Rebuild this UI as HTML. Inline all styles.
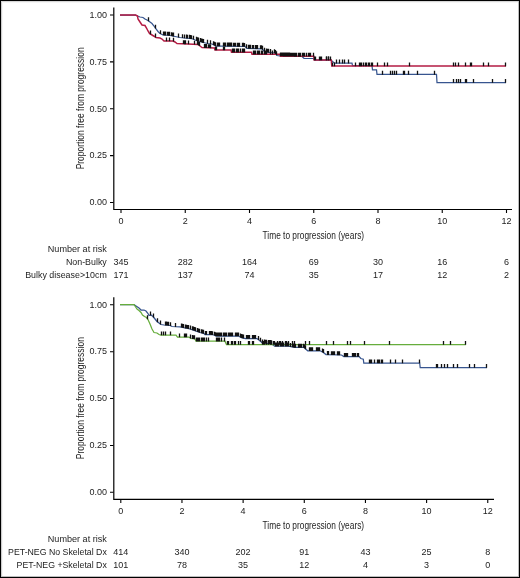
<!DOCTYPE html>
<html><head><meta charset="utf-8"><style>
html,body{margin:0;padding:0;background:#fff;}
svg{display:block;will-change:transform;}
</style></head><body>
<svg width="520" height="578" viewBox="0 0 520 578" font-family="'Liberation Sans', sans-serif">
<rect x="0" y="0" width="520" height="578" fill="#fff"/>
<rect x="0.5" y="0.5" width="519" height="577" fill="none" stroke="#000" stroke-width="1"/>
<rect x="1" y="1" width="1" height="576" fill="#cdcdcd"/>
<rect x="1" y="1" width="518" height="1" fill="#d6d6d6"/>
<rect x="518" y="1" width="1" height="576" fill="#bdbdbd"/>
<rect x="1" y="576" width="518" height="1" fill="#bdbdbd"/>
<rect x="2" y="2" width="1" height="574" fill="#f6f6f6"/>
<rect x="2" y="2" width="516" height="1" fill="#f6f6f6"/>
<path d="M113.8 7.5 V210.1 M113.2 209.5 H512" stroke="#000" stroke-width="1.2" fill="none"/>
<path d="M110 202.50 H113.5 M110 155.62 H113.5 M110 108.75 H113.5 M110 61.88 H113.5 M110 15.00 H113.5 M121.00 209.5 V213.1 M185.25 209.5 V213.1 M249.50 209.5 V213.1 M313.75 209.5 V213.1 M378.00 209.5 V213.1 M442.25 209.5 V213.1 M506.50 209.5 V213.1" stroke="#000" stroke-width="1.1" fill="none"/>
<text x="107.1" y="205.30" font-size="9" text-anchor="end" fill="#1c1c1c">0.00</text>
<text x="107.1" y="158.43" font-size="9" text-anchor="end" fill="#1c1c1c">0.25</text>
<text x="107.1" y="111.55" font-size="9" text-anchor="end" fill="#1c1c1c">0.50</text>
<text x="107.1" y="64.67" font-size="9" text-anchor="end" fill="#1c1c1c">0.75</text>
<text x="107.1" y="17.80" font-size="9" text-anchor="end" fill="#1c1c1c">1.00</text>
<text x="121.00" y="224.00" font-size="9" text-anchor="middle" fill="#1c1c1c">0</text>
<text x="185.25" y="224.00" font-size="9" text-anchor="middle" fill="#1c1c1c">2</text>
<text x="249.50" y="224.00" font-size="9" text-anchor="middle" fill="#1c1c1c">4</text>
<text x="313.75" y="224.00" font-size="9" text-anchor="middle" fill="#1c1c1c">6</text>
<text x="378.00" y="224.00" font-size="9" text-anchor="middle" fill="#1c1c1c">8</text>
<text x="442.25" y="224.00" font-size="9" text-anchor="middle" fill="#1c1c1c">10</text>
<text x="506.50" y="224.00" font-size="9" text-anchor="middle" fill="#1c1c1c">12</text>
<text x="262.6" y="239.00" font-size="10" text-anchor="start" fill="#1c1c1c" textLength="101.5" lengthAdjust="spacingAndGlyphs">Time to progression (years)</text>
<text x="0" y="0" font-size="10" text-anchor="middle" fill="#1c1c1c" textLength="122" lengthAdjust="spacingAndGlyphs" transform="translate(83.9 108.35) rotate(-90)">Proportion free from progression</text>
<text x="106.8" y="252.00" font-size="9" text-anchor="end" fill="#1c1c1c" textLength="59" lengthAdjust="spacingAndGlyphs">Number at risk</text>
<text x="106.8" y="265.00" font-size="9" text-anchor="end" fill="#1c1c1c" textLength="40.9" lengthAdjust="spacingAndGlyphs">Non-Bulky</text>
<text x="121.00" y="265.00" font-size="9" text-anchor="middle" fill="#1c1c1c">345</text>
<text x="185.25" y="265.00" font-size="9" text-anchor="middle" fill="#1c1c1c">282</text>
<text x="249.50" y="265.00" font-size="9" text-anchor="middle" fill="#1c1c1c">164</text>
<text x="313.75" y="265.00" font-size="9" text-anchor="middle" fill="#1c1c1c">69</text>
<text x="378.00" y="265.00" font-size="9" text-anchor="middle" fill="#1c1c1c">30</text>
<text x="442.25" y="265.00" font-size="9" text-anchor="middle" fill="#1c1c1c">16</text>
<text x="506.50" y="265.00" font-size="9" text-anchor="middle" fill="#1c1c1c">6</text>
<text x="106.8" y="278.00" font-size="9" text-anchor="end" fill="#1c1c1c" textLength="81.6" lengthAdjust="spacingAndGlyphs">Bulky disease&gt;10cm</text>
<text x="121.00" y="278.00" font-size="9" text-anchor="middle" fill="#1c1c1c">171</text>
<text x="185.25" y="278.00" font-size="9" text-anchor="middle" fill="#1c1c1c">137</text>
<text x="249.50" y="278.00" font-size="9" text-anchor="middle" fill="#1c1c1c">74</text>
<text x="313.75" y="278.00" font-size="9" text-anchor="middle" fill="#1c1c1c">35</text>
<text x="378.00" y="278.00" font-size="9" text-anchor="middle" fill="#1c1c1c">17</text>
<text x="442.25" y="278.00" font-size="9" text-anchor="middle" fill="#1c1c1c">12</text>
<text x="506.50" y="278.00" font-size="9" text-anchor="middle" fill="#1c1c1c">2</text>
<polyline points="120.00,15.00 135.50,15.00 137.50,16.00 140.00,17.00 143.00,17.50 145.00,19.00 148.00,20.50 150.00,22.00 152.00,23.50 154.00,26.00 156.00,29.00 158.00,31.50 160.00,33.50 163.00,35.00 170.00,35.50 175.00,36.50 180.00,37.50 184.00,38.00 190.00,38.50 193.00,39.00 195.00,40.00 200.00,41.50 203.00,42.50 208.00,43.50 212.00,44.00 216.00,46.00 222.00,46.00 245.00,46.50 247.00,48.30 262.00,48.80 265.00,52.00 275.00,53.00 277.00,55.50 280.00,56.00 302.00,56.50 304.00,58.30 313.50,58.50 314.50,60.00 331.00,60.00 332.00,61.00 334.50,63.20 352.00,63.20 352.50,65.70 372.00,65.70 372.50,69.80 376.50,69.80 377.00,74.45 436.50,74.45 437.00,82.50 506.00,82.50" fill="none" stroke="#37558f" stroke-width="1.25" stroke-linejoin="miter"/>
<polyline points="120.00,15.00 135.50,15.00 137.50,16.00 138.00,19.00 140.00,22.00 142.00,25.00 145.00,25.50 146.50,28.00 148.00,31.00 149.50,33.50 152.00,35.00 154.50,36.50 156.00,37.50 160.00,38.00 162.00,39.00 164.00,41.00 173.00,41.00 175.00,42.00 177.00,43.50 188.00,44.00 198.00,44.50 200.00,46.00 202.00,47.50 214.50,48.00 215.00,50.00 231.00,50.00 231.50,52.20 251.50,52.20 252.00,54.20 280.00,54.20 280.50,56.30 313.80,56.30 314.20,60.00 331.30,60.00 331.80,66.00 506.00,66.00" fill="none" stroke="#b41c44" stroke-width="1.5" stroke-linejoin="miter"/>
<path d="M148.50 21.18v-3.90 M155.50 28.55v-3.90 M160.50 34.05v-3.90 M163.50 35.34v-3.90 M164.50 35.41v-3.90 M165.50 35.48v-3.90 M167.50 35.62v-3.90 M168.50 35.69v-3.90 M169.50 35.76v-3.90 M171.50 36.10v-3.90 M172.50 36.30v-3.90 M173.50 36.50v-3.90 M178.50 37.50v-3.90 M182.50 38.11v-3.90 M184.50 38.34v-3.90 M186.50 38.51v-3.90 M187.50 38.59v-3.90 M189.50 38.76v-3.90 M190.50 38.88v-3.90 M191.50 39.05v-3.90 M193.50 39.55v-3.90 M196.50 40.75v-3.90 M197.50 41.05v-3.90 M198.50 41.35v-3.90 M200.50 41.97v-3.90 M201.50 42.30v-3.90 M202.50 42.63v-3.90 M203.50 42.90v-3.90 M207.50 43.70v-3.90 M210.50 44.11v-3.90 M213.50 45.05v-3.90 M214.50 45.55v-3.90 M215.50 46.05v-3.90 M217.50 46.30v-3.90 M218.50 46.30v-3.90 M219.50 46.30v-3.90 M223.50 46.33v-3.90 M224.50 46.35v-3.90 M225.50 46.38v-3.90 M227.50 46.42v-3.90 M228.50 46.44v-3.90 M229.50 46.46v-3.90 M230.50 46.48v-3.90 M231.50 46.51v-3.90 M233.50 46.55v-3.90 M234.50 46.57v-3.90 M235.50 46.59v-3.90 M237.50 46.64v-3.90 M238.50 46.66v-3.90 M239.50 46.68v-3.90 M242.50 46.75v-3.90 M243.50 46.77v-3.90 M244.50 46.79v-3.90 M246.50 48.15v-3.90 M248.50 48.65v-3.90 M249.50 48.68v-3.90 M250.50 48.72v-3.90 M252.50 48.78v-3.90 M253.50 48.82v-3.90 M255.50 48.88v-3.90 M256.50 48.92v-3.90 M257.50 48.95v-3.90 M260.50 49.05v-3.90 M261.50 49.08v-3.90 M262.50 49.63v-3.90 M264.50 51.77v-3.90 M266.50 52.45v-3.90 M267.50 52.55v-3.90 M268.50 52.65v-3.90 M270.50 52.85v-3.90 M274.50 53.25v-3.90 M275.50 53.92v-3.90 M276.50 55.17v-3.90 M280.50 56.31v-3.90 M281.50 56.33v-3.90 M282.50 56.36v-3.90 M283.50 56.38v-3.90 M284.50 56.40v-3.90 M285.50 56.42v-3.90 M286.50 56.45v-3.90 M287.50 56.47v-3.90 M288.50 56.49v-3.90 M289.50 56.52v-3.90 M290.50 56.54v-3.90 M291.50 56.56v-3.90 M292.50 56.58v-3.90 M293.50 56.61v-3.90 M294.50 56.63v-3.90 M295.50 56.65v-3.90 M296.50 56.67v-3.90 M298.50 56.72v-3.90 M299.50 56.74v-3.90 M300.50 56.77v-3.90 M326.50 60.30v-3.90 M328.50 60.30v-3.90 M330.50 60.30v-3.90 M336.50 63.50v-3.90 M339.50 63.50v-3.90 M342.50 63.50v-3.90 M344.50 63.50v-3.90 M348.50 63.50v-3.90 M382.50 74.75v-3.90 M390.50 74.75v-3.90 M392.50 74.75v-3.90 M394.50 74.75v-3.90 M396.50 74.75v-3.90 M403.50 74.75v-3.90 M404.50 74.75v-3.90 M408.50 74.75v-3.90 M417.50 74.75v-3.90 M434.50 74.75v-3.90 M453.50 82.80v-3.90 M456.50 82.80v-3.90 M458.50 82.80v-3.90 M460.50 82.80v-3.90 M465.50 82.80v-3.90 M466.50 82.80v-3.90 M473.50 82.80v-3.90 M492.50 82.80v-3.90 M505.50 82.80v-3.90" stroke="#111" stroke-width="1.3" fill="none"/>
<path d="M150.50 34.40v-3.90 M155.50 37.47v-3.90 M166.50 41.30v-3.90 M169.50 41.30v-3.90 M173.50 41.55v-3.90 M183.50 44.10v-3.90 M184.50 44.14v-3.90 M185.50 44.19v-3.90 M188.50 44.32v-3.90 M194.50 44.62v-3.90 M197.50 44.77v-3.90 M198.50 45.17v-3.90 M199.50 45.92v-3.90 M204.50 47.90v-3.90 M205.50 47.94v-3.90 M206.50 47.98v-3.90 M208.50 48.06v-3.90 M209.50 48.10v-3.90 M210.50 48.14v-3.90 M215.50 50.30v-3.90 M216.50 50.30v-3.90 M223.50 50.30v-3.90 M224.50 50.30v-3.90 M232.50 52.50v-3.90 M233.50 52.50v-3.90 M234.50 52.50v-3.90 M236.50 52.50v-3.90 M237.50 52.50v-3.90 M238.50 52.50v-3.90 M240.50 52.50v-3.90 M242.50 52.50v-3.90 M243.50 52.50v-3.90 M244.50 52.50v-3.90 M253.50 54.50v-3.90 M254.50 54.50v-3.90 M255.50 54.50v-3.90 M257.50 54.50v-3.90 M258.50 54.50v-3.90 M259.50 54.50v-3.90 M261.50 54.50v-3.90 M262.50 54.50v-3.90 M264.50 54.50v-3.90 M265.50 54.50v-3.90 M266.50 54.50v-3.90 M270.50 54.50v-3.90 M272.50 54.50v-3.90 M302.50 56.60v-3.90 M303.50 56.60v-3.90 M304.50 56.60v-3.90 M306.50 56.60v-3.90 M308.50 56.60v-3.90 M309.50 56.60v-3.90 M310.50 56.60v-3.90 M313.50 56.60v-3.90 M314.50 60.30v-3.90 M315.50 60.30v-3.90 M319.50 60.30v-3.90 M320.50 60.30v-3.90 M321.50 60.30v-3.90 M326.50 60.30v-3.90 M328.50 60.30v-3.90 M332.50 66.30v-3.90 M334.50 66.30v-3.90 M355.50 66.30v-3.90 M359.50 66.30v-3.90 M360.50 66.30v-3.90 M361.50 66.30v-3.90 M363.50 66.30v-3.90 M365.50 66.30v-3.90 M366.50 66.30v-3.90 M368.50 66.30v-3.90 M369.50 66.30v-3.90 M371.50 66.30v-3.90 M372.50 66.30v-3.90 M377.50 66.30v-3.90 M384.50 66.30v-3.90 M387.50 66.30v-3.90 M409.50 66.30v-3.90 M453.50 66.30v-3.90 M455.50 66.30v-3.90 M458.50 66.30v-3.90 M465.50 66.30v-3.90 M470.50 66.30v-3.90 M471.50 66.30v-3.90 M483.50 66.30v-3.90 M488.50 66.30v-3.90 M505.50 66.30v-3.90" stroke="#111" stroke-width="1.3" fill="none"/>
<path d="M113.8 297.3 V499.90000000000003 M113.2 499.3 H494" stroke="#000" stroke-width="1.2" fill="none"/>
<path d="M110 492.30 H113.5 M110 445.43 H113.5 M110 398.55 H113.5 M110 351.68 H113.5 M110 304.80 H113.5 M120.80 499.3 V502.90000000000003 M181.96 499.3 V502.90000000000003 M243.12 499.3 V502.90000000000003 M304.28 499.3 V502.90000000000003 M365.44 499.3 V502.90000000000003 M426.60 499.3 V502.90000000000003 M487.76 499.3 V502.90000000000003" stroke="#000" stroke-width="1.1" fill="none"/>
<text x="107.1" y="495.10" font-size="9" text-anchor="end" fill="#1c1c1c">0.00</text>
<text x="107.1" y="448.23" font-size="9" text-anchor="end" fill="#1c1c1c">0.25</text>
<text x="107.1" y="401.35" font-size="9" text-anchor="end" fill="#1c1c1c">0.50</text>
<text x="107.1" y="354.48" font-size="9" text-anchor="end" fill="#1c1c1c">0.75</text>
<text x="107.1" y="307.60" font-size="9" text-anchor="end" fill="#1c1c1c">1.00</text>
<text x="120.80" y="513.80" font-size="9" text-anchor="middle" fill="#1c1c1c">0</text>
<text x="181.96" y="513.80" font-size="9" text-anchor="middle" fill="#1c1c1c">2</text>
<text x="243.12" y="513.80" font-size="9" text-anchor="middle" fill="#1c1c1c">4</text>
<text x="304.28" y="513.80" font-size="9" text-anchor="middle" fill="#1c1c1c">6</text>
<text x="365.44" y="513.80" font-size="9" text-anchor="middle" fill="#1c1c1c">8</text>
<text x="426.60" y="513.80" font-size="9" text-anchor="middle" fill="#1c1c1c">10</text>
<text x="487.76" y="513.80" font-size="9" text-anchor="middle" fill="#1c1c1c">12</text>
<text x="262.6" y="528.80" font-size="10" text-anchor="start" fill="#1c1c1c" textLength="101.5" lengthAdjust="spacingAndGlyphs">Time to progression (years)</text>
<text x="0" y="0" font-size="10" text-anchor="middle" fill="#1c1c1c" textLength="122" lengthAdjust="spacingAndGlyphs" transform="translate(83.9 398.15) rotate(-90)">Proportion free from progression</text>
<text x="106.8" y="541.80" font-size="9" text-anchor="end" fill="#1c1c1c" textLength="59" lengthAdjust="spacingAndGlyphs">Number at risk</text>
<text x="106.8" y="554.80" font-size="9" text-anchor="end" fill="#1c1c1c" textLength="98.7" lengthAdjust="spacingAndGlyphs">PET-NEG No Skeletal Dx</text>
<text x="120.80" y="554.80" font-size="9" text-anchor="middle" fill="#1c1c1c">414</text>
<text x="181.96" y="554.80" font-size="9" text-anchor="middle" fill="#1c1c1c">340</text>
<text x="243.12" y="554.80" font-size="9" text-anchor="middle" fill="#1c1c1c">202</text>
<text x="304.28" y="554.80" font-size="9" text-anchor="middle" fill="#1c1c1c">91</text>
<text x="365.44" y="554.80" font-size="9" text-anchor="middle" fill="#1c1c1c">43</text>
<text x="426.60" y="554.80" font-size="9" text-anchor="middle" fill="#1c1c1c">25</text>
<text x="487.76" y="554.80" font-size="9" text-anchor="middle" fill="#1c1c1c">8</text>
<text x="106.8" y="567.80" font-size="9" text-anchor="end" fill="#1c1c1c" textLength="90.2" lengthAdjust="spacingAndGlyphs">PET-NEG +Skeletal Dx</text>
<text x="120.80" y="567.80" font-size="9" text-anchor="middle" fill="#1c1c1c">101</text>
<text x="181.96" y="567.80" font-size="9" text-anchor="middle" fill="#1c1c1c">78</text>
<text x="243.12" y="567.80" font-size="9" text-anchor="middle" fill="#1c1c1c">35</text>
<text x="304.28" y="567.80" font-size="9" text-anchor="middle" fill="#1c1c1c">12</text>
<text x="365.44" y="567.80" font-size="9" text-anchor="middle" fill="#1c1c1c">4</text>
<text x="426.60" y="567.80" font-size="9" text-anchor="middle" fill="#1c1c1c">3</text>
<text x="487.76" y="567.80" font-size="9" text-anchor="middle" fill="#1c1c1c">0</text>
<polyline points="120.00,304.70 134.00,304.70 136.00,306.00 139.00,308.00 141.00,310.00 144.00,310.00 146.00,311.00 148.00,313.50 149.00,315.50 151.00,315.00 153.00,316.50 155.00,319.00 157.00,321.50 159.00,323.00 161.00,324.50 164.00,325.00 170.00,325.50 172.00,326.50 180.00,326.80 185.00,328.00 190.00,329.00 193.00,330.00 197.00,331.50 200.00,332.50 204.00,333.50 205.00,334.50 210.00,334.50 214.00,335.00 216.00,336.00 238.50,336.00 241.50,337.70 245.40,338.50 257.00,338.50 260.80,341.50 262.30,343.00 271.50,343.80 274.60,346.20 288.50,346.20 294.60,347.40 303.80,347.40 307.70,350.80 320.00,350.80 323.00,352.30 326.00,354.60 341.50,355.00 343.80,356.50 359.20,356.50 360.80,358.50 363.30,359.20 363.80,363.00 419.70,363.00 420.20,367.50 487.00,367.50" fill="none" stroke="#37558f" stroke-width="1.25" stroke-linejoin="miter"/>
<polyline points="120.00,304.70 134.00,304.70 135.00,306.00 137.00,309.00 139.00,310.50 141.00,312.50 142.50,315.00 144.50,316.50 146.50,317.50 148.00,319.50 150.00,324.00 152.00,329.00 154.00,332.50 157.00,333.00 159.00,334.50 161.00,335.00 176.00,335.00 177.50,337.00 189.00,337.00 191.00,338.50 195.00,339.00 196.00,341.20 225.00,341.20 226.50,344.50 465.80,344.50" fill="none" stroke="#66ad3c" stroke-width="1.25" stroke-linejoin="miter"/>
<path d="M150.50 315.43v-3.90 M153.50 317.43v-3.90 M157.50 322.18v-3.90 M160.50 324.43v-3.90 M165.50 325.43v-3.90 M166.50 325.51v-3.90 M167.50 325.59v-3.90 M168.50 325.68v-3.90 M170.50 326.05v-3.90 M175.50 326.93v-3.90 M181.50 327.46v-3.90 M182.50 327.70v-3.90 M183.50 327.94v-3.90 M185.50 328.40v-3.90 M186.50 328.60v-3.90 M187.50 328.80v-3.90 M188.50 329.00v-3.90 M190.50 329.47v-3.90 M192.50 330.13v-3.90 M193.50 330.49v-3.90 M194.50 330.86v-3.90 M195.50 331.24v-3.90 M197.50 331.97v-3.90 M198.50 332.30v-3.90 M199.50 332.63v-3.90 M201.50 333.18v-3.90 M202.50 333.43v-3.90 M203.50 333.68v-3.90 M205.50 334.80v-3.90 M206.50 334.80v-3.90 M209.50 334.80v-3.90 M210.50 334.86v-3.90 M211.50 334.99v-3.90 M212.50 335.11v-3.90 M214.50 335.55v-3.90 M215.50 336.05v-3.90 M216.50 336.30v-3.90 M217.50 336.30v-3.90 M218.50 336.30v-3.90 M219.50 336.30v-3.90 M220.50 336.30v-3.90 M221.50 336.30v-3.90 M223.50 336.30v-3.90 M224.50 336.30v-3.90 M225.50 336.30v-3.90 M226.50 336.30v-3.90 M228.50 336.30v-3.90 M229.50 336.30v-3.90 M230.50 336.30v-3.90 M231.50 336.30v-3.90 M232.50 336.30v-3.90 M235.50 336.30v-3.90 M236.50 336.30v-3.90 M237.50 336.30v-3.90 M238.50 336.30v-3.90 M240.50 337.43v-3.90 M241.50 338.00v-3.90 M242.50 338.21v-3.90 M243.50 338.41v-3.90 M246.50 338.80v-3.90 M247.50 338.80v-3.90 M248.50 338.80v-3.90 M249.50 338.80v-3.90 M252.50 338.80v-3.90 M253.50 338.80v-3.90 M254.50 338.80v-3.90 M255.50 338.80v-3.90 M258.50 339.98v-3.90 M260.50 341.56v-3.90 M262.50 343.32v-3.90 M264.50 343.49v-3.90 M265.50 343.58v-3.90 M266.50 343.67v-3.90 M268.50 343.84v-3.90 M269.50 343.93v-3.90 M270.50 344.01v-3.90 M271.50 344.10v-3.90 M275.50 346.50v-3.90 M276.50 346.50v-3.90 M277.50 346.50v-3.90 M278.50 346.50v-3.90 M280.50 346.50v-3.90 M281.50 346.50v-3.90 M282.50 346.50v-3.90 M283.50 346.50v-3.90 M285.50 346.50v-3.90 M286.50 346.50v-3.90 M287.50 346.50v-3.90 M288.50 346.50v-3.90 M290.50 346.89v-3.90 M292.50 347.29v-3.90 M293.50 347.48v-3.90 M294.50 347.68v-3.90 M295.50 347.70v-3.90 M298.50 347.70v-3.90 M299.50 347.70v-3.90 M300.50 347.70v-3.90 M301.50 347.70v-3.90 M303.50 347.70v-3.90 M304.50 348.31v-3.90 M305.50 349.18v-3.90 M309.50 351.10v-3.90 M310.50 351.10v-3.90 M311.50 351.10v-3.90 M312.50 351.10v-3.90 M316.50 351.10v-3.90 M317.50 351.10v-3.90 M318.50 351.10v-3.90 M319.50 351.10v-3.90 M322.50 352.35v-3.90 M323.50 352.98v-3.90 M327.50 354.94v-3.90 M328.50 354.96v-3.90 M331.50 355.04v-3.90 M332.50 355.07v-3.90 M333.50 355.09v-3.90 M334.50 355.12v-3.90 M337.50 355.20v-3.90 M338.50 355.22v-3.90 M339.50 355.25v-3.90 M344.50 356.80v-3.90 M345.50 356.80v-3.90 M346.50 356.80v-3.90 M347.50 356.80v-3.90 M352.50 356.80v-3.90 M353.50 356.80v-3.90 M354.50 356.80v-3.90 M355.50 356.80v-3.90 M357.50 356.80v-3.90 M358.50 356.80v-3.90 M369.50 363.30v-3.90 M370.50 363.30v-3.90 M371.50 363.30v-3.90 M374.50 363.30v-3.90 M377.50 363.30v-3.90 M378.50 363.30v-3.90 M379.50 363.30v-3.90 M381.50 363.30v-3.90 M382.50 363.30v-3.90 M390.50 363.30v-3.90 M395.50 363.30v-3.90 M402.50 363.30v-3.90 M419.50 363.30v-3.90 M436.50 367.80v-3.90 M437.50 367.80v-3.90 M441.50 367.80v-3.90 M444.50 367.80v-3.90 M447.50 367.80v-3.90 M453.50 367.80v-3.90 M457.50 367.80v-3.90 M469.50 367.80v-3.90 M474.50 367.80v-3.90 M486.50 367.80v-3.90" stroke="#111" stroke-width="1.3" fill="none"/>
<path d="M147.50 319.13v-3.90 M161.50 335.30v-3.90 M163.50 335.30v-3.90 M165.50 335.30v-3.90 M170.50 335.30v-3.90 M179.50 337.30v-3.90 M184.50 337.30v-3.90 M185.50 337.30v-3.90 M186.50 337.30v-3.90 M190.50 338.43v-3.90 M192.50 338.99v-3.90 M193.50 339.11v-3.90 M194.50 339.24v-3.90 M196.50 341.50v-3.90 M197.50 341.50v-3.90 M198.50 341.50v-3.90 M199.50 341.50v-3.90 M201.50 341.50v-3.90 M202.50 341.50v-3.90 M203.50 341.50v-3.90 M204.50 341.50v-3.90 M206.50 341.50v-3.90 M208.50 341.50v-3.90 M216.50 341.50v-3.90 M217.50 341.50v-3.90 M218.50 341.50v-3.90 M219.50 341.50v-3.90 M221.50 341.50v-3.90 M224.50 341.50v-3.90 M227.50 344.80v-3.90 M228.50 344.80v-3.90 M231.50 344.80v-3.90 M232.50 344.80v-3.90 M234.50 344.80v-3.90 M235.50 344.80v-3.90 M238.50 344.80v-3.90 M240.50 344.80v-3.90 M248.50 344.80v-3.90 M249.50 344.80v-3.90 M252.50 344.80v-3.90 M253.50 344.80v-3.90 M262.50 344.80v-3.90 M263.50 344.80v-3.90 M264.50 344.80v-3.90 M266.50 344.80v-3.90 M268.50 344.80v-3.90 M270.50 344.80v-3.90 M271.50 344.80v-3.90 M273.50 344.80v-3.90 M274.50 344.80v-3.90 M277.50 344.80v-3.90 M279.50 344.80v-3.90 M280.50 344.80v-3.90 M282.50 344.80v-3.90 M285.50 344.80v-3.90 M286.50 344.80v-3.90 M288.50 344.80v-3.90 M292.50 344.80v-3.90 M294.50 344.80v-3.90 M305.50 344.80v-3.90 M309.50 344.80v-3.90 M326.50 344.80v-3.90 M333.50 344.80v-3.90 M347.50 344.80v-3.90 M350.50 344.80v-3.90 M364.50 344.80v-3.90 M389.50 344.80v-3.90 M443.50 344.80v-3.90 M450.50 344.80v-3.90 M465.50 344.80v-3.90" stroke="#111" stroke-width="1.3" fill="none"/>
</svg>
</body></html>
